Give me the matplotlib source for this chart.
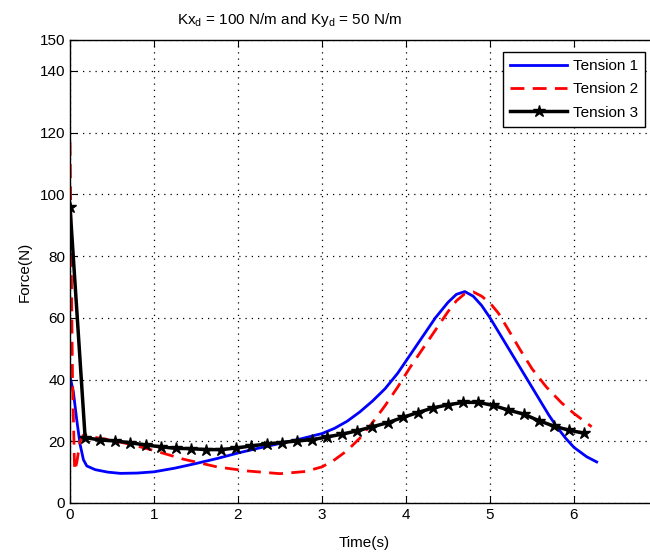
import numpy as np
import matplotlib
matplotlib.use("Agg")
import matplotlib.pyplot as plt

plt.rcParams['font.family'] = ['Liberation Sans', 'DejaVu Sans']

# Tension 1 (blue, solid)
t1 = [0.0, 0.04, 0.08, 0.12, 0.16, 0.2, 0.3, 0.45, 0.6, 0.8, 1.0, 1.25, 1.5, 1.75,
      2.0, 2.25, 2.5, 2.75, 3.0, 3.15, 3.3, 3.45, 3.6, 3.75, 3.9, 4.05, 4.2, 4.35,
      4.5, 4.6, 4.7, 4.8, 4.9, 5.0, 5.1, 5.2, 5.3, 5.4, 5.5, 5.6, 5.7, 5.8, 5.9,
      6.0, 6.15, 6.27]
f1 = [41, 36, 27, 19, 14, 12, 10.8, 10.0, 9.6, 9.7, 10.1, 11.3, 12.8, 14.4,
      16.2, 17.8, 19.3, 20.8, 22.5, 24.2, 26.5, 29.5, 33, 37, 42, 48, 54, 60,
      65, 67.6, 68.5, 67, 64, 60, 55.5, 51, 46.5, 42, 37.5, 33, 28.5, 24.5, 21,
      18, 15, 13.3]

# Tension 2 (red, dashed)
t2 = [0.0, 0.03, 0.055, 0.08, 0.12, 0.16, 0.25, 0.5, 0.75, 1.0, 1.35, 1.75, 2.1,
      2.5, 2.8, 3.0, 3.15, 3.3, 3.45, 3.6, 3.75, 3.9, 4.05, 4.2, 4.35, 4.5, 4.6,
      4.7, 4.8, 4.9, 5.0, 5.1, 5.2, 5.36, 5.5, 5.67, 5.85, 6.0, 6.21]
f2 = [117, 40, 10.5, 13, 20, 22, 21.5, 20.3, 18.8, 17, 14.2, 11.7, 10.4,
      9.5, 10.2, 11.7, 14, 17, 21, 26, 31.5, 37.5, 44, 50, 56, 62, 65.5,
      67.8, 68.4, 67, 64.8, 61.5, 57, 49.6, 43.5, 37.6, 32.5, 29, 24.7]

# Tension 3 (black, stars), sampled every 0.18 s
t3 = np.arange(35) * 0.18
f3 = [96, 21.2, 20.4, 20.1, 19.5, 18.8, 18.2, 17.7, 17.6, 17.3, 17.3, 17.8, 18.5,
      19.1, 19.6, 20.1, 20.5, 21.4, 22.3, 23.4, 24.7, 26.0, 27.7, 29.3, 30.8, 31.8,
      32.6, 32.6, 31.6, 30.1, 28.8, 26.7, 24.9, 23.6, 22.6]

xticks = [0, 1, 2, 3, 4, 5, 6]
yticks = [0, 20, 40, 60, 80, 100, 120, 140, 150]

W, H = 650, 555
fig = plt.figure(figsize=(W / 100, H / 100), dpi=100)
ax = fig.add_axes([70 / W, 1 - 503 / H, 588 / W, 463 / H])

ax.plot(t1, f1, color='#0000ff', lw=2, label='Tension 1')
ax.plot(t2, f2, color='#ff0000', lw=2, ls=(0, (5, 3)), label='Tension 2')
ax.plot(t3, f3, color='black', lw=2.5, marker='*', ms=9, label='Tension 3')

ax.set_xlim(0, 7)
ax.set_ylim(0, 150)
ax.set_xticks(xticks)
ax.set_yticks(yticks)
ax.grid(True, color='black', ls=(0, (1, 4)), lw=0.9)
ax.tick_params(direction='in', top=True, right=True, labelsize=11, length=5)
for s in ax.spines.values():
    s.set_linewidth(1)

ax.set_xlabel('Time(s)', fontsize=11, labelpad=10)
ax.set_ylabel('Force(N)', fontsize=11, labelpad=6)
fig.text(290 / W, 1 - 20 / H,
         'Kx$_\\mathregular{d}$ = 100 N/m and Ky$_\\mathregular{d}$ = 50 N/m',
         fontsize=11, ha='center', va='center')

leg = ax.legend(loc='upper right', bbox_to_anchor=(645 / W, 1 - 52 / H),
                bbox_transform=fig.transFigure, fontsize=11, fancybox=False,
                framealpha=1, edgecolor='black', handlelength=3.7,
                borderaxespad=0, labelspacing=0.62, handletextpad=0.4,
                borderpad=0.45)
leg.get_frame().set_linewidth(1)

fig.savefig('out.png', dpi=100)
